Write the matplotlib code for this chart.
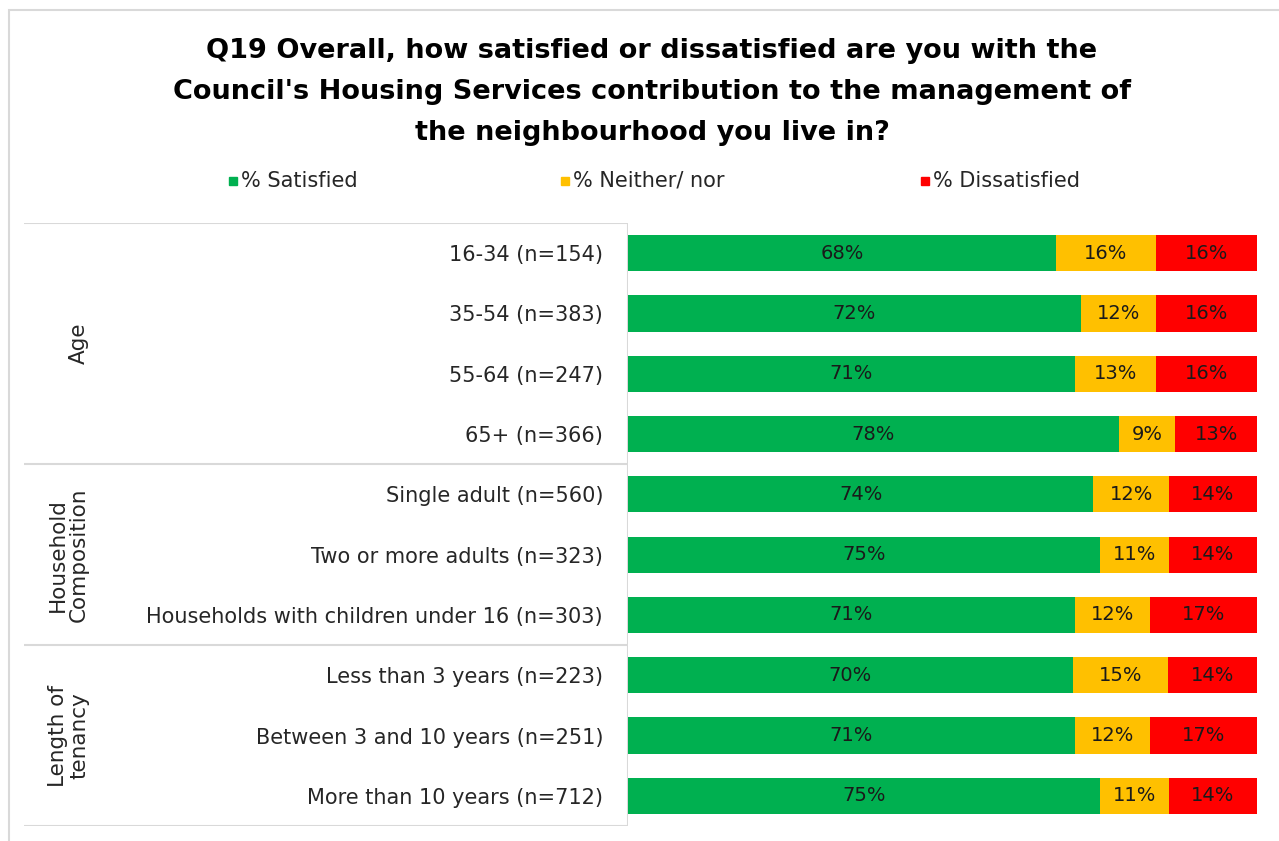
import matplotlib
matplotlib.use("Agg")
import matplotlib.pyplot as plt
from matplotlib.patches import Rectangle
from matplotlib.lines import Line2D
import numpy as np

# Datos
categorias = ["16-34 (n=154)", "35-54 (n=383)", "55-64 (n=247)", "65+ (n=366)",
              "Single adult (n=560)", "Two or more adults (n=323)",
              "Households with children under 16 (n=303)",
              "Less than 3 years (n=223)", "Between 3 and 10 years (n=251)",
              "More than 10 years (n=712)"]
satisfechos = [68, 72, 71, 78, 74, 75, 71, 70, 71, 75]
ni_ni = [16, 12, 13, 9, 12, 11, 12, 15, 12, 11]
insatisfechos = [16, 16, 16, 13, 14, 14, 17, 14, 17, 14]
series_nombres = ["% Satisfied", "% Neither/ nor", "% Dissatisfied"]
grupos = ["Age", "Household\nComposition", "Length of\ntenancy"]
grupo_tamanos = [4, 3, 3]

COLORES = ["#00B050", "#FFC000", "#FF0000"]
GRIS = "#D9D9D9"
TEXTO = "#262626"
W, H = 1279, 841


def fx(px):
    return px / W


def fy(py):
    return 1 - py / H


fig = plt.figure(figsize=(W / 100, H / 100), dpi=100)

# borde exterior del grafico
fig.add_artist(Rectangle((fx(9), fy(860)), fx(1300), fy(10) - fy(860), transform=fig.transFigure,
                         fill=False, edgecolor=GRIS, linewidth=1.5))

# titulo
fig.text(fx(652), fy(92), "Q19 Overall, how satisfied or dissatisfied are you with the\n"
         "Council's Housing Services contribution to the management of\n"
         "the neighbourhood you live in?", ha="center", va="center",
         fontsize=19.5, fontweight="bold", color="black", linespacing=1.76)

# leyenda manual
leyenda_x = [233, 565, 925]
for x, nombre, color in zip(leyenda_x, series_nombres, COLORES):
    fig.add_artist(Line2D([fx(x)], [fy(181)], marker="s", markersize=5.5, color=color,
                          linestyle="none", transform=fig.transFigure))
    fig.text(fx(x + 8), fy(181), nombre, ha="left", va="center", fontsize=15, color=TEXTO)

# ejes de barras
n = len(categorias)
top, bottom = 223, 826
ax = fig.add_axes([fx(628), fy(bottom), fx(1257) - fx(628), fy(top) - fy(bottom)])
datos = np.array([satisfechos, ni_ni, insatisfechos], dtype=float)
totales = datos.sum(axis=0)
pct = datos / totales * 100
y = np.arange(n)
izquierda = np.zeros(n)
for i in range(3):
    barras = ax.barh(y, pct[i], left=izquierda, height=0.6, color=COLORES[i], linewidth=0)
    etiquetas = [f"{int(v)}%" for v in datos[i]]
    ax.bar_label(barras, labels=etiquetas, label_type="center", fontsize=14, color="#1a1a1a")
    izquierda += pct[i]

ax.set_xlim(0, 100)
ax.set_ylim(n - 0.5, -0.5)
ax.set_yticks(y)
ax.set_yticklabels(categorias, fontsize=15, color=TEXTO)
ax.tick_params(axis="y", length=0, pad=18)
ax.set_xticks([])
for s in ax.spines.values():
    s.set_visible(False)

# tabla de la izquierda
axt = fig.add_axes([fx(24), fy(bottom), fx(628) - fx(24), fy(top) - fy(bottom)])
axt.set_xlim(0, 1)
axt.set_ylim(n - 0.5, -0.5)
axt.axis("off")
axt.vlines(1, -0.5, n - 0.5, color=GRIS, linewidth=1.5)
inicio = -0.5
axt.hlines(inicio, 0, 1, color=GRIS, linewidth=1.5)
for nombre, tam in zip(grupos, grupo_tamanos):
    fin = inicio + tam
    axt.hlines(fin, 0, 1, color=GRIS, linewidth=1.5)
    axt.text(fx(89 - 24) / (fx(628) - fx(24)), (inicio + fin) / 2, nombre, rotation=90,
             ha="right", va="center", fontsize=15.5, color=TEXTO, multialignment="center",
             linespacing=1.05)
    inicio = fin

fig.savefig("out.png", dpi=100)
